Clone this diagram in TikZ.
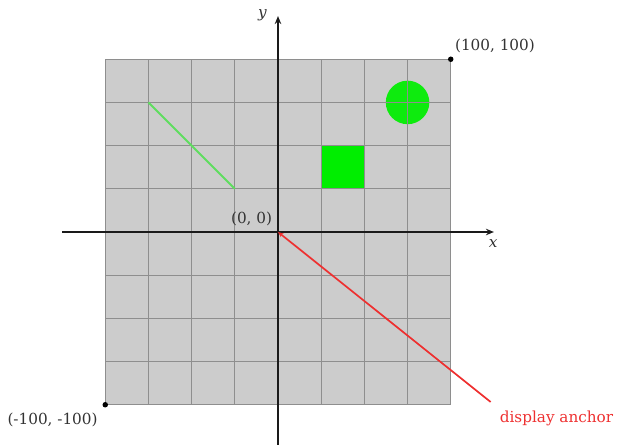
\documentclass[tikz,border=0pt]{standalone}
\usepackage{fontspec}
\setmainfont{DejaVu Serif}
\usetikzlibrary{arrows.meta}
\definecolor{gridfill}{HTML}{CCCCCC}
\definecolor{gridline}{HTML}{8E8E8E}
\definecolor{brightgreen}{HTML}{00EE00}
\definecolor{linegreen}{HTML}{5FDD5F}
\definecolor{anchorred}{HTML}{EE3030}
\definecolor{axisdark}{HTML}{1A1A1A}
\tikzset{
  axisline/.style={draw=axisdark, line width=2.2bp, -{Stealth[length=8bp,width=6.5bp]}},
  lbl/.style={font=\fontsize{15.3}{17}\selectfont, text=black!80, inner sep=0pt},
  ilbl/.style={lbl, font=\itshape\fontsize{15.3}{17}\selectfont},
  cornerdot/.style={circle, fill=black, inner sep=0pt, minimum size=5.5bp},
}
\begin{document}
\begin{tikzpicture}[x=1.7275bp, y=1.7275bp]
\useasboundingbox (-160.93,-123.30) rectangle (197.40,134.30);
% background square
\fill[gridfill] (-100,-100) rectangle (100,100);
% shapes
\fill[brightgreen] (25,25) rectangle (50,50);
\fill[brightgreen, opacity=0.93] (75,75) circle (12.6);
% grid
\draw[gridline, line width=1bp] (-100,-100) grid[step=25] (100,100);
\draw[linegreen, line width=2bp] (-75,75) -- (-25,25);
% axes
\coordinate (O) at (0,0);
\coordinate (xs) at (-125,0);
\coordinate (xe) at (125,0);
\coordinate (ys) at (0,-128);
\coordinate (ye) at (0,125);
\draw[axisline] (xs) -- (xe);
\draw[axisline] (ys) -- (ye);
\node[ilbl] (ylab) at (-9,125.5) {y};
\node[ilbl] (xlab) at (124.5,-6.4) {x};
% corner dots and labels
\node[cornerdot] (tr) at (100,100) {};
\node[cornerdot] (bl) at (-100,-100) {};
\node[lbl] (trlab) at (125.6,107.7) {(100, 100)};
\node[lbl] (bllab) at (-130.5,-108.8) {(-100, -100)};
\node[lbl] (olab) at (-15.3,7.8) {(0, 0)};
% display anchor
\coordinate (da) at (123.1,-98.4);
\draw[anchorred, line width=1.7bp, -{Stealth[length=5.5bp,width=4.5bp]}] (da) -- (O);
\node[lbl, anchor=west, text=anchorred] (dalab) at (128.3,-108) {display anchor};
\end{tikzpicture}
\end{document}
